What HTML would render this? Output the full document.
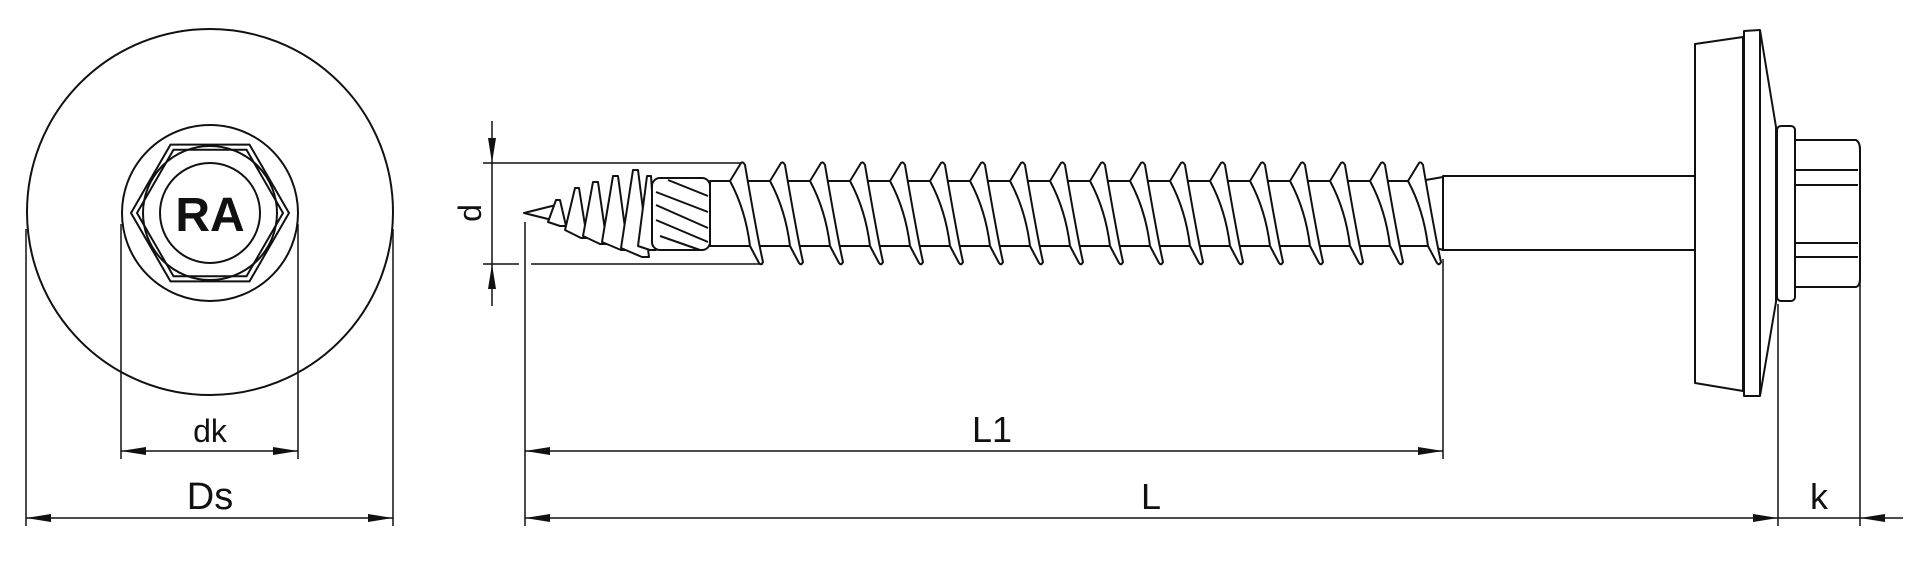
<!DOCTYPE html>
<html><head><meta charset="utf-8"><style>
html,body{margin:0;padding:0;background:#fff;}
svg{display:block;}
text{font-family:"Liberation Sans",Arial,sans-serif;fill:#111;}
</style></head><body>
<svg width="1920" height="585" viewBox="0 0 1920 585" xmlns="http://www.w3.org/2000/svg">
<g fill="none" stroke="#111" stroke-width="2">
<circle cx="210" cy="212" r="183"/>
<circle cx="210" cy="213" r="88"/>
<polygon points="289,213 249.5,144.6 170.5,144.6 131,213 170.5,281.4 249.5,281.4"/>
<polygon points="283,213 246.5,149.8 173.5,149.8 137,213 173.5,276.2 246.5,276.2"/>
<circle cx="210" cy="213" r="67"/>
<circle cx="210" cy="213" r="50"/>
</g>
<text x="210" y="231" font-size="48" font-weight="bold" text-anchor="middle">RA</text>

<g stroke="#111" stroke-width="1.5" fill="none">
<line x1="121" y1="224" x2="121" y2="459"/><line x1="298" y1="224" x2="298" y2="459"/>
<line x1="121" y1="451" x2="298" y2="451"/>
<line x1="26" y1="229" x2="26" y2="526"/><line x1="393" y1="229" x2="393" y2="526"/>
<line x1="26" y1="518" x2="393" y2="518"/>
<line x1="492" y1="121" x2="492" y2="306"/>
<line x1="483" y1="163" x2="742" y2="163"/>
<line x1="483" y1="264" x2="519" y2="264"/><line x1="531" y1="264" x2="763" y2="264"/>
<line x1="525" y1="222" x2="525" y2="526"/>
<line x1="1443" y1="259" x2="1443" y2="459"/>
<line x1="525" y1="451" x2="1443" y2="451"/>
<line x1="525" y1="518" x2="1903" y2="518"/>
<line x1="1778" y1="304" x2="1778" y2="526"/>
<line x1="1860" y1="146" x2="1860" y2="526"/>
</g>
<g fill="#111">
<polygon points="121,451 146,447 146,455"/><polygon points="298,451 273,447 273,455"/>
<polygon points="26,518 51,514 51,522"/><polygon points="393,518 368,514 368,522"/>
<polygon points="492,163 488,138 496,138"/><polygon points="492,264 488,289 496,289"/>
<polygon points="525,451 550,447 550,455"/><polygon points="1443,451 1418,447 1418,455"/>
<polygon points="525,518 550,514 550,522"/><polygon points="1778,518 1753,514 1753,522"/>
<polygon points="1860,518 1885,514 1885,522"/>
</g>
<text x="210" y="442" font-size="32" text-anchor="middle">dk</text>
<text x="210" y="509" font-size="38" text-anchor="middle">Ds</text>
<text x="992" y="442" font-size="36" text-anchor="middle">L1</text>
<text x="1151" y="509" font-size="36" text-anchor="middle">L</text>
<text x="1819" y="509" font-size="36" text-anchor="middle">k</text>
<text transform="translate(481,213) rotate(-90)" font-size="32" text-anchor="middle">d</text>

<g fill="#fff" stroke="#111" stroke-width="2" stroke-linejoin="round">
<rect x="1443" y="176" width="252" height="74"/>
<path d="M710 181 L1420 181 L1443 177 L1443 250 L1430 246 L710 246 Z"/>
<path d="M524 213 L560 204 L560 222 Z"/>
<path d="M548 222 L556 200 L560 200 L566 226 L560 226 Z"/>
<path d="M565 230 L575 188 L579 188 L587 238 L581 238 Z"/>
<path d="M583 236 L593 182 L598 182 L607 244 L600 244 Z"/>
<path d="M602 242 L613 176 L618 176 L628 250 L621 250 Z"/>
<path d="M621 248 L633 170 L638 170 L649 257 L642 257 Z"/>
<path d="M638 246 L647 176 L651 176 L656 250 L650 250 Z"/>
<rect x="652" y="178" width="58" height="72" rx="8"/>
</g>
<g stroke="#111" stroke-width="2" fill="none">
<path d="M656 192 L708 212"/><path d="M656 205 L708 228"/><path d="M656 220 L708 242"/><path d="M660 236 L700 250"/><path d="M668 180 L708 196"/>
</g>
<g fill="#fff" stroke="#111" stroke-width="2" stroke-linejoin="round">
<path id="t" d="M730 181 L741 163 Q743 161 745 165 C751 200 758 240 763 262 Q761 266 759 263 L750 246 C748 230 743 205 730 181 Z"/>
<use href="#t" x="40"/><use href="#t" x="80"/><use href="#t" x="120"/><use href="#t" x="160"/>
<use href="#t" x="200"/><use href="#t" x="240"/><use href="#t" x="280"/><use href="#t" x="320"/>
<use href="#t" x="360"/><use href="#t" x="400"/><use href="#t" x="440"/><use href="#t" x="480"/>
<use href="#t" x="520"/><use href="#t" x="560"/><use href="#t" x="600"/><use href="#t" x="640"/>
<use href="#t" x="678"/>
</g>
<g fill="#fff" stroke="#111" stroke-width="2" stroke-linejoin="round">
<polygon points="1695,44 1743,37 1743,391 1695,383"/>
<polygon points="1744,31 1760,30 1776,127 1776,302 1760,396 1744,396"/>
<line x1="1760" y1="30" x2="1760" y2="396"/>
<rect x="1777" y="126" width="18" height="175" rx="4"/>
<path d="M1795 140 L1856 140 Q1860 142 1860 150 L1860 278 Q1860 286 1856 287 L1795 287 Z"/>
<line x1="1795" y1="170" x2="1858" y2="170"/><line x1="1795" y1="185" x2="1858" y2="185"/>
<line x1="1795" y1="243" x2="1858" y2="243"/><line x1="1795" y1="257" x2="1858" y2="257"/>
</g>
</svg>
</body></html>
